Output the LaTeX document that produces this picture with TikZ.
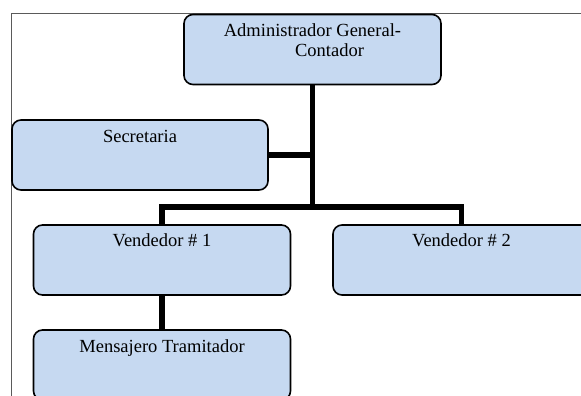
\documentclass[tikz,border=0pt]{standalone}
\usepackage{fontspec}
\setmainfont{Liberation Serif}
\definecolor{boxblue}{RGB}{198,217,241}
\definecolor{framegray}{RGB}{90,90,90}

\begin{document}
\begin{tikzpicture}[x=1pt, y=-1pt,
   post/.style={draw=black, line width=1.6pt, fill=boxblue, rounded corners=9pt,
      minimum width=257pt, minimum height=70pt, inner sep=0pt},
   title/.style={font=\fontsize{18.5}{20}\selectfont, inner sep=0pt, anchor=base, align=center},
   link/.style={line width=5.5pt}]
   \clip (0,0) rectangle (581,396);
   \draw[framegray, line width=1pt] (11,396) -- (11,14) -- (581,14);
   \node[post] (admin) at (312.5,49.5) {};
   \node[post, minimum width=256pt] (sec) at (140,155) {};
   \node[post] (vend1) at (162,260) {};
   \node[post] (vend2) at (461.5,260) {};
   \node[post] (mens) at (162,365) {};
   \node[title] (admintext) at ([yshift=-43pt]admin.north) {Administrador General-\\\hspace*{34pt}Contador};
   \node[title] (sectext) at ([yshift=-23pt]sec.north) {Secretaria};
   \node[title] (vend1text) at ([yshift=-22pt]vend1.north) {Vendedor \# 1};
   \node[title] (vend2text) at ([yshift=-22pt]vend2.north) {Vendedor \# 2};
   \node[title] (menstext) at ([yshift=-23pt]mens.north) {Mensajero Tramitador};
   \coordinate (split) at (312.5,207);
   \draw[link] (admin.south) -- (split);
   \draw[link] (sec.east) -- (sec.east -| admin.south);
   \draw[link] (vend1.north) |- (split) -| (vend2.north);
   \draw[link] (vend1.south) -- (mens.north);
\end{tikzpicture}
\end{document}
